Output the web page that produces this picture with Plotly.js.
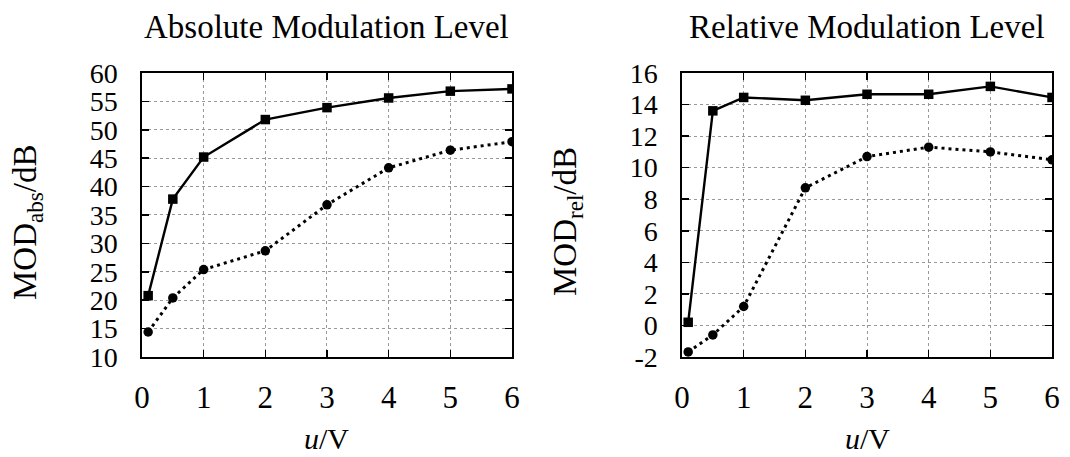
<!DOCTYPE html>
<html>
<head>
<meta charset="utf-8">
<script src="https://cdn.plot.ly/plotly-3.0.1.min.js"></script>
<style>html,body{margin:0;padding:0;background:#fff;}#chart{width:1070px;height:457px;}</style>
</head>
<body>
<div id="chart"></div>
<script>
// Data
const u = [0.1, 0.5, 1, 2, 3, 4, 5, 6];
const absSolid = [20.8, 37.8, 45.2, 51.8, 53.9, 55.6, 56.8, 57.2];
const absDotted = [14.4, 20.4, 25.4, 28.7, 36.8, 43.3, 46.4, 47.9];
const relSolid = [0.2, 13.6, 14.45, 14.27, 14.65, 14.65, 15.15, 14.45];
const relDotted = [-1.68, -0.6, 1.2, 8.72, 10.7, 11.3, 11.0, 10.5];
const xTicks = [0, 1, 2, 3, 4, 5, 6];
const absTicks = [10, 15, 20, 25, 30, 35, 40, 45, 50, 55, 60];
const relTicks = [-2, 0, 2, 4, 6, 8, 10, 12, 14, 16];
const titles = ["Absolute Modulation Level", "Relative Modulation Level"];
const yTitles = ["MOD<sub>abs</sub>/dB", "MOD<sub>rel</sub>/dB"];
const xTitle = "<i>u</i>/V";

const FONT = "Liberation Serif, Times New Roman, serif";
const solidLine = {color: "#000", width: 2.4};
const dotLine = {color: "#000", width: 3, dash: "3px,4px"};
const sq = {symbol: "square", size: 9.5, color: "#000"};
const ci = {symbol: "circle", size: 9.5, color: "#000"};

const traces = [
  {x: u, y: absSolid, xaxis: "x", yaxis: "y", mode: "lines+markers", line: solidLine, marker: sq},
  {x: u, y: absDotted, xaxis: "x", yaxis: "y", mode: "lines+markers", line: dotLine, marker: ci},
  {x: u, y: relSolid, xaxis: "x2", yaxis: "y2", mode: "lines+markers", line: solidLine, marker: sq},
  {x: u, y: relDotted, xaxis: "x2", yaxis: "y2", mode: "lines+markers", line: dotLine, marker: ci}
];

function xa(domain, anchor) {
  return {domain: domain, anchor: anchor, range: [0, 6], tickvals: xTicks, ticktext: xTicks.map(String),
    ticks: "inside", ticklen: 7, tickwidth: 1.5, tickcolor: "#000", mirror: "ticks",
    showline: true, linecolor: "#000", linewidth: 1.6,
    showgrid: true, gridcolor: "#999", griddash: "dot", gridwidth: 1,
    zeroline: false, ticklabelstandoff: 12,
    tickfont: {family: FONT, size: 31, color: "#000"}};
}
function ya(domain, anchor, range, ticks) {
  return {domain: domain, anchor: anchor, range: range, tickvals: ticks, ticktext: ticks.map(String),
    ticks: "inside", ticklen: 7, tickwidth: 1.5, tickcolor: "#000", mirror: "ticks",
    showline: true, linecolor: "#000", linewidth: 1.6,
    showgrid: true, gridcolor: "#999", griddash: "dot", gridwidth: 1,
    zeroline: false, ticklabelstandoff: 17,
    tickfont: {family: FONT, size: 28, color: "#000"}};
}

const yDom = [0.2188, 0.8403];
const tf = {family: FONT, size: 33, color: "#000"};
const layout = {
  width: 1070, height: 457,
  margin: {l: 0, r: 0, t: 0, b: 0},
  paper_bgcolor: "#fff", plot_bgcolor: "#fff",
  showlegend: false,
  xaxis: xa([0.1327, 0.4785], "y"),
  yaxis: ya(yDom, "x", [10, 60], absTicks),
  xaxis2: xa([0.6374, 0.9832], "y2"),
  yaxis2: ya(yDom, "x2", [-2, 16], relTicks),
  annotations: [
    {text: titles[0], xref: "paper", yref: "paper", x: 0.3056, y: 1 - 27/457, xanchor: "center", yanchor: "middle", showarrow: false, font: tf},
    {text: titles[1], xref: "paper", yref: "paper", x: 0.8103, y: 1 - 27/457, xanchor: "center", yanchor: "middle", showarrow: false, font: tf},
    {text: yTitles[0], xref: "paper", yref: "paper", x: 27/1070, y: 1 - 222/457, xanchor: "center", yanchor: "middle", textangle: -90, showarrow: false, font: tf},
    {text: yTitles[1], xref: "paper", yref: "paper", x: 567/1070, y: 1 - 222/457, xanchor: "center", yanchor: "middle", textangle: -90, showarrow: false, font: tf},
    {text: xTitle, xref: "paper", yref: "paper", x: 0.3056, y: 1 - 438/457, xanchor: "center", yanchor: "middle", showarrow: false, font: {family: FONT, size: 30, color: "#000"}},
    {text: xTitle, xref: "paper", yref: "paper", x: 0.8103, y: 1 - 438/457, xanchor: "center", yanchor: "middle", showarrow: false, font: {family: FONT, size: 30, color: "#000"}}
  ]
};

Plotly.newPlot("chart", traces, layout, {staticPlot: true, displayModeBar: false});
</script>
</body>
</html>
